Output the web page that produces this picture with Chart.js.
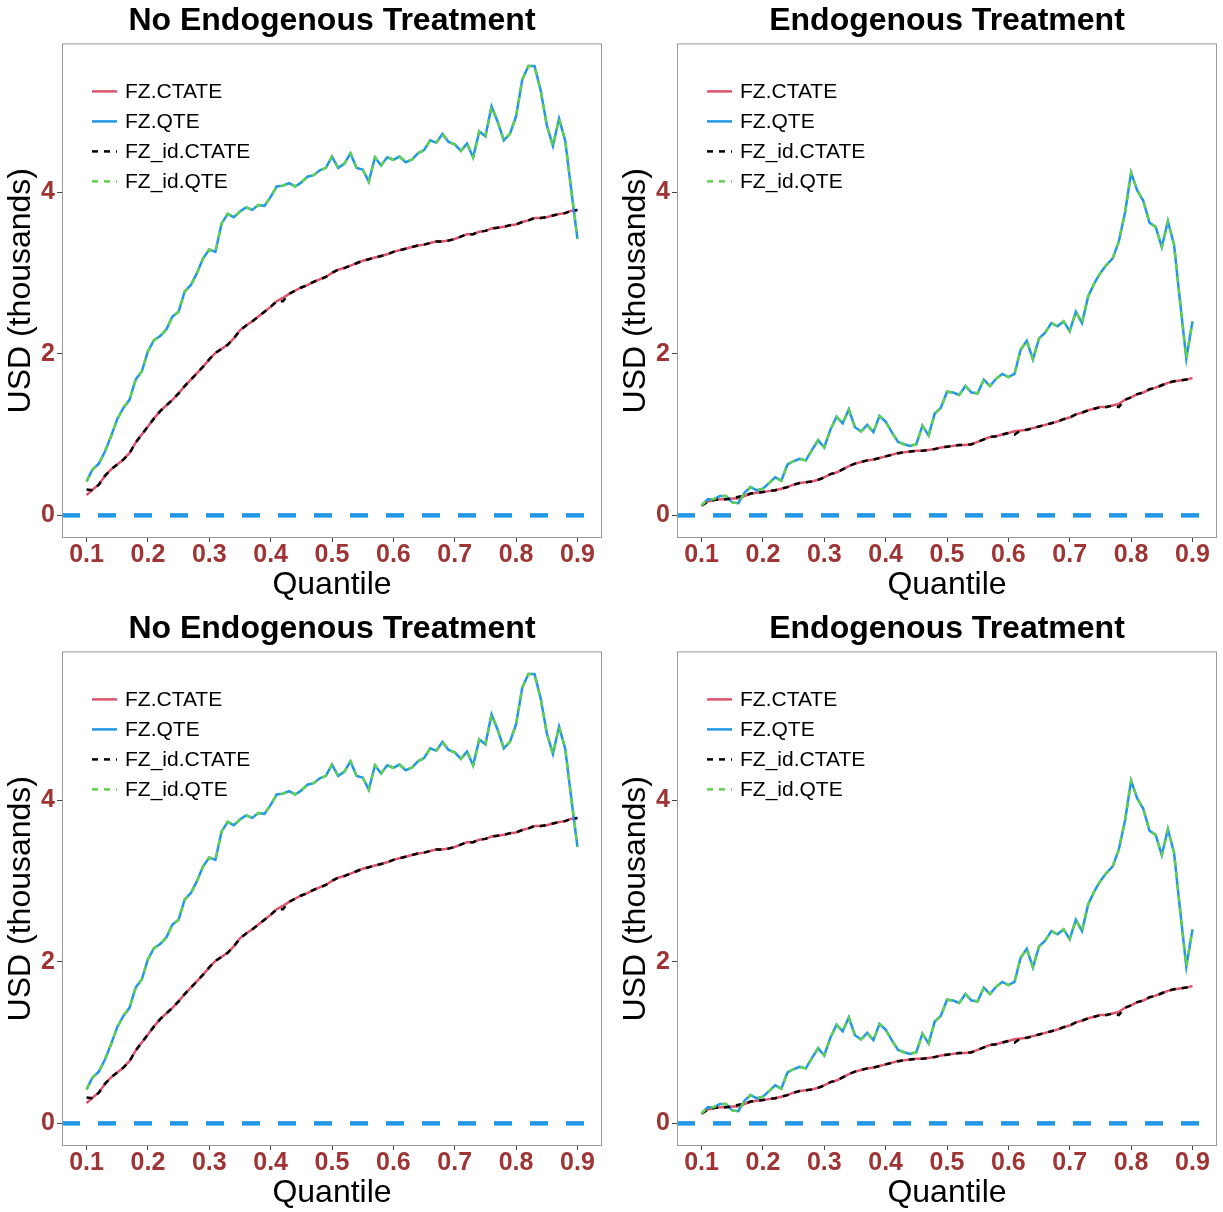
<!DOCTYPE html>
<html>
<head>
<meta charset="utf-8">
<script src="https://cdn.jsdelivr.net/npm/chart.js@4.4.1/dist/chart.umd.min.js"></script>
<style>
  html, body { margin: 0; padding: 0; background: #fff; overflow: hidden; }
  canvas { position: absolute; }
</style>
</head>
<body>
<canvas id="panelTL" width="612" height="604" style="left:0;top:0"></canvas>
<canvas id="panelTR" width="608" height="604" style="left:615px;top:0"></canvas>
<canvas id="panelBL" width="612" height="604" style="left:0;top:608px"></canvas>
<canvas id="panelBR" width="608" height="604" style="left:615px;top:608px"></canvas>
<script>
const quantiles = Array.from({ length: 81 }, (_, i) => Math.round((0.1 + i * 0.01) * 100) / 100);
const xTicks = [0.1, 0.2, 0.3, 0.4, 0.5, 0.6, 0.7, 0.8, 0.9];
const yTicks = [0, 2, 4];
const zeroLine = 0;

// No endogenous treatment
const ctateNoEndo = [
  0.25, 0.32, 0.38, 0.49, 0.57, 0.63, 0.69, 0.77, 0.90, 1.00,
  1.10, 1.20, 1.29, 1.36, 1.43, 1.51, 1.60, 1.68, 1.76, 1.84,
  1.93, 2.01, 2.06, 2.11, 2.19, 2.29, 2.35, 2.40, 2.46, 2.52,
  2.58, 2.65, 2.69, 2.74, 2.78, 2.82, 2.85, 2.89, 2.92, 2.95,
  3.00, 3.04, 3.06, 3.09, 3.12, 3.15, 3.17, 3.19, 3.21, 3.23,
  3.26, 3.28, 3.30, 3.32, 3.34, 3.35, 3.37, 3.39, 3.39, 3.40,
  3.42, 3.45, 3.48, 3.48, 3.51, 3.52, 3.55, 3.56, 3.57, 3.59,
  3.60, 3.63, 3.65, 3.68, 3.68, 3.69, 3.71, 3.73, 3.74, 3.77,
  3.77,
];
const qteNoEndo = [
  0.42, 0.57, 0.64, 0.79, 0.98, 1.19, 1.33, 1.43, 1.68, 1.78,
  2.03, 2.17, 2.22, 2.30, 2.46, 2.52, 2.77, 2.85, 3.00, 3.18,
  3.29, 3.26, 3.61, 3.73, 3.69, 3.76, 3.81, 3.78, 3.84, 3.83,
  3.94, 4.07, 4.08, 4.11, 4.07, 4.12, 4.19, 4.21, 4.27, 4.30,
  4.44, 4.30, 4.35, 4.48, 4.30, 4.28, 4.13, 4.43, 4.33, 4.43,
  4.40, 4.44, 4.37, 4.40, 4.48, 4.52, 4.64, 4.61, 4.72, 4.62,
  4.59, 4.51, 4.60, 4.43, 4.75, 4.69, 5.06, 4.87, 4.64, 4.72,
  4.94, 5.39, 5.56, 5.56, 5.26, 4.83, 4.57, 4.91, 4.64, 4.02,
  3.42,
];
const idCtateNoEndo = [
  0.32, 0.31, 0.38, 0.49, 0.57, 0.63, 0.69, 0.77, 0.90, 1.00,
  1.10, 1.20, 1.29, 1.36, 1.43, 1.51, 1.60, 1.68, 1.76, 1.84,
  1.93, 2.01, 2.06, 2.11, 2.19, 2.29, 2.35, 2.40, 2.46, 2.52,
  2.58, 2.65, 2.65, 2.74, 2.78, 2.82, 2.85, 2.89, 2.92, 2.95,
  3.00, 3.04, 3.06, 3.09, 3.12, 3.15, 3.17, 3.19, 3.21, 3.23,
  3.26, 3.28, 3.30, 3.32, 3.34, 3.35, 3.37, 3.39, 3.39, 3.40,
  3.42, 3.45, 3.48, 3.48, 3.51, 3.52, 3.55, 3.56, 3.57, 3.59,
  3.60, 3.63, 3.65, 3.68, 3.68, 3.69, 3.71, 3.73, 3.74, 3.77,
  3.78,
];
const idQteNoEndo = [
  0.42, 0.57, 0.64, 0.79, 0.98, 1.19, 1.33, 1.43, 1.68, 1.78,
  2.03, 2.17, 2.22, 2.30, 2.46, 2.52, 2.77, 2.85, 3.00, 3.18,
  3.29, 3.26, 3.61, 3.73, 3.69, 3.76, 3.81, 3.78, 3.84, 3.83,
  3.94, 4.07, 4.08, 4.11, 4.07, 4.12, 4.19, 4.21, 4.27, 4.30,
  4.44, 4.30, 4.35, 4.48, 4.30, 4.28, 4.13, 4.43, 4.33, 4.43,
  4.40, 4.44, 4.37, 4.40, 4.48, 4.52, 4.64, 4.61, 4.72, 4.62,
  4.59, 4.51, 4.60, 4.43, 4.75, 4.69, 5.06, 4.87, 4.64, 4.72,
  4.94, 5.39, 5.56, 5.56, 5.26, 4.83, 4.57, 4.91, 4.64, 4.02,
  3.42,
];

// Endogenous treatment
const ctateEndo = [
  0.12, 0.17, 0.19, 0.20, 0.20, 0.21, 0.21, 0.24, 0.27, 0.28,
  0.29, 0.30, 0.31, 0.33, 0.35, 0.38, 0.40, 0.41, 0.42, 0.44,
  0.47, 0.51, 0.53, 0.57, 0.61, 0.64, 0.66, 0.68, 0.69, 0.71,
  0.73, 0.75, 0.77, 0.78, 0.79, 0.80, 0.80, 0.81, 0.82, 0.84,
  0.85, 0.86, 0.87, 0.87, 0.88, 0.91, 0.94, 0.97, 0.98, 1.00,
  1.02, 1.04, 1.05, 1.06, 1.08, 1.10, 1.12, 1.14, 1.16, 1.19,
  1.21, 1.25, 1.27, 1.30, 1.32, 1.34, 1.34, 1.36, 1.38, 1.43,
  1.46, 1.50, 1.52, 1.56, 1.58, 1.61, 1.64, 1.66, 1.67, 1.68,
  1.70,
];
const qteEndo = [
  0.12, 0.20, 0.20, 0.24, 0.24, 0.16, 0.15, 0.28, 0.35, 0.31,
  0.33, 0.40, 0.47, 0.43, 0.63, 0.67, 0.70, 0.68, 0.81, 0.93,
  0.84, 1.06, 1.22, 1.14, 1.31, 1.09, 1.04, 1.12, 1.03, 1.23,
  1.16, 1.03, 0.91, 0.88, 0.86, 0.88, 1.11, 0.99, 1.26, 1.33,
  1.53, 1.52, 1.49, 1.60, 1.52, 1.51, 1.68, 1.60, 1.69, 1.75,
  1.71, 1.75, 2.05, 2.16, 1.93, 2.19, 2.26, 2.38, 2.34, 2.40,
  2.28, 2.52, 2.38, 2.71, 2.87, 3.00, 3.10, 3.18, 3.39, 3.74,
  4.24, 4.02, 3.89, 3.62, 3.57, 3.32, 3.64, 3.35, 2.63, 1.94,
  2.40,
];
const idCtateEndo = [
  0.12, 0.17, 0.19, 0.20, 0.20, 0.21, 0.23, 0.24, 0.27, 0.28,
  0.29, 0.30, 0.31, 0.33, 0.35, 0.38, 0.40, 0.41, 0.42, 0.44,
  0.47, 0.51, 0.53, 0.57, 0.61, 0.64, 0.66, 0.68, 0.69, 0.71,
  0.73, 0.75, 0.77, 0.78, 0.79, 0.80, 0.80, 0.81, 0.82, 0.84,
  0.85, 0.86, 0.87, 0.87, 0.88, 0.91, 0.94, 0.97, 0.98, 1.00,
  1.02, 1.00, 1.05, 1.06, 1.08, 1.10, 1.12, 1.14, 1.16, 1.19,
  1.21, 1.25, 1.27, 1.30, 1.32, 1.34, 1.34, 1.36, 1.34, 1.43,
  1.46, 1.50, 1.52, 1.56, 1.58, 1.61, 1.64, 1.66, 1.67, 1.68,
  1.70,
];
const idQteEndo = [
  0.12, 0.20, 0.20, 0.24, 0.24, 0.16, 0.15, 0.28, 0.35, 0.31,
  0.33, 0.40, 0.47, 0.43, 0.63, 0.67, 0.70, 0.68, 0.81, 0.93,
  0.84, 1.06, 1.22, 1.14, 1.31, 1.09, 1.04, 1.12, 1.03, 1.23,
  1.16, 1.03, 0.91, 0.88, 0.86, 0.88, 1.11, 0.99, 1.26, 1.33,
  1.53, 1.52, 1.49, 1.60, 1.52, 1.51, 1.68, 1.60, 1.69, 1.75,
  1.71, 1.75, 2.05, 2.16, 1.93, 2.19, 2.26, 2.38, 2.34, 2.40,
  2.28, 2.52, 2.38, 2.71, 2.87, 3.00, 3.10, 3.18, 3.39, 3.74,
  4.24, 4.02, 3.89, 3.62, 3.57, 3.32, 3.64, 3.35, 2.63, 1.94,
  2.40,
];

const X_MIN = 0.06;
const X_MAX = 0.94;
const Y_MIN = -0.28;
const Y_MAX = 5.84;
const FONT = "'Liberation Sans', Arial, Helvetica, sans-serif";
const RED = "#DF536B";
const BLUE = "#2297E6";
const GREEN = "#61D04F";
const TICK_RED = "#9E3434";

const lineSet = (label, values, color, dash, order) => ({
  label,
  data: quantiles.map((q, i) => ({ x: q, y: values[i] })),
  borderColor: color,
  borderWidth: 2.5,
  borderDash: dash,
  pointRadius: 0,
  tension: 0,
  fill: false,
  order,
});

// panel border + legend inside the plot area
const panelDecor = {
  id: "panelDecor",
  afterDatasetsDraw(chart) {
    const { ctx, chartArea: a } = chart;
    ctx.save();
    ctx.strokeStyle = "#9a9a9a";
    ctx.lineWidth = 1;
    ctx.strokeRect(a.left + 0.5, a.top + 0.5, a.right - a.left - 1, a.bottom - a.top - 1);

    const items = chart.data.datasets.filter((d) => d.label);
    items.forEach((d, i) => {
      const y = a.top + 48 + i * 30;
      ctx.beginPath();
      ctx.setLineDash(d.borderDash || []);
      ctx.strokeStyle = d.borderColor;
      ctx.lineWidth = 2.5;
      ctx.moveTo(a.left + 30, y);
      ctx.lineTo(a.left + 55, y);
      ctx.stroke();
      ctx.setLineDash([]);
      ctx.fillStyle = "#000";
      ctx.font = `21px ${FONT}`;
      ctx.textBaseline = "middle";
      ctx.fillText(d.label, a.left + 63, y + 1);
    });
    ctx.restore();
  },
};

const renderPanel = (canvasId, title, ctate, qte, idCtate, idQte, padRight) => {
  const canvas = document.querySelector(`#${canvasId}`);
  if (!canvas) return;
  new Chart(canvas, {
    type: "line",
    data: {
      datasets: [
        lineSet("FZ.CTATE", ctate, RED, [], 4),
        lineSet("FZ.QTE", qte, BLUE, [], 3),
        lineSet("FZ_id.CTATE", idCtate, "#000000", [6, 6], 2),
        lineSet("FZ_id.QTE", idQte, GREEN, [6, 6], 1),
        {
          label: "",
          data: [
            { x: X_MIN, y: zeroLine },
            { x: X_MAX, y: zeroLine },
          ],
          borderColor: BLUE,
          borderWidth: 4.5,
          borderDash: [18, 18],
          pointRadius: 0,
          order: 5,
        },
      ],
    },
    options: {
      responsive: false,
      animation: false,
      events: [],
      layout: { padding: { left: 0, right: padRight, top: 0, bottom: 0 } },
      plugins: {
        legend: { display: false },
        tooltip: { enabled: false },
        title: {
          display: true,
          fullSize: false,
          text: title,
          color: "#000",
          font: { family: FONT, size: 32, weight: "bold" },
          padding: { top: 2, bottom: 3 },
        },
      },
      scales: {
        x: {
          type: "linear",
          min: X_MIN,
          max: X_MAX,
          afterBuildTicks: (scale) => {
            scale.ticks = xTicks.map((value) => ({ value }));
          },
          afterFit: (scale) => {
            scale.height = 66;
          },
          grid: { drawOnChartArea: false, tickLength: 4, color: "#444" },
          border: { display: false },
          ticks: {
            padding: 1,
            color: TICK_RED,
            font: { family: FONT, size: 25, weight: "bold", lineHeight: 1 },
            maxRotation: 0,
            callback: (v) => v.toFixed(1),
          },
          title: {
            display: true,
            text: "Quantile",
            color: "#000",
            font: { family: FONT, size: 32 },
            padding: { top: 0, bottom: 0 },
          },
        },
        y: {
          min: Y_MIN,
          max: Y_MAX,
          afterBuildTicks: (scale) => {
            scale.ticks = yTicks.map((value) => ({ value }));
          },
          afterFit: (scale) => {
            scale.width = 62;
          },
          grid: { drawOnChartArea: false, tickLength: 5, color: "#444" },
          border: { display: false },
          ticks: {
            padding: 2,
            color: TICK_RED,
            font: { family: FONT, size: 25, weight: "bold" },
            callback: (v) => String(v),
          },
          title: {
            display: true,
            text: "USD (thousands)",
            color: "#000",
            font: { family: FONT, size: 32 },
            padding: { top: 2, bottom: 0 },
          },
        },
      },
    },
    plugins: [panelDecor],
  });
};

window.addEventListener("DOMContentLoaded", () => {
  renderPanel("panelTL", "No Endogenous Treatment", ctateNoEndo, qteNoEndo, idCtateNoEndo, idQteNoEndo, 10);
  renderPanel("panelTR", "Endogenous Treatment", ctateEndo, qteEndo, idCtateEndo, idQteEndo, 6);
  renderPanel("panelBL", "No Endogenous Treatment", ctateNoEndo, qteNoEndo, idCtateNoEndo, idQteNoEndo, 10);
  renderPanel("panelBR", "Endogenous Treatment", ctateEndo, qteEndo, idCtateEndo, idQteEndo, 6);
});
</script>
</body>
</html>
